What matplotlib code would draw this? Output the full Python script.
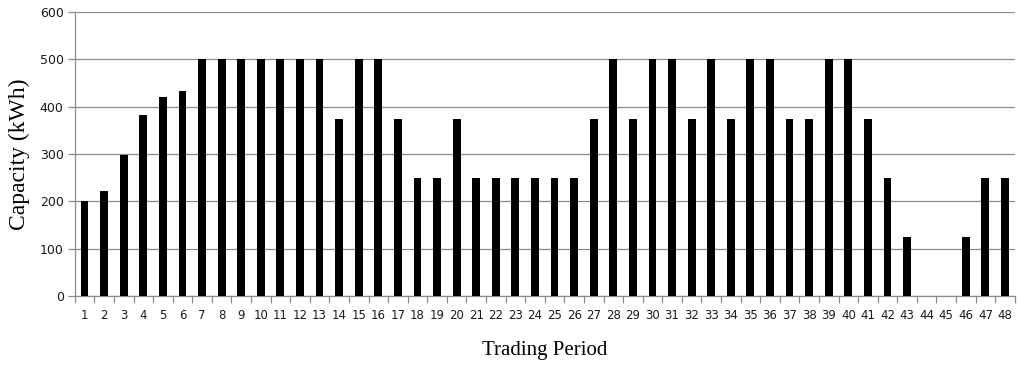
import matplotlib.pyplot as plt
import numpy as np

periods = list(range(1, 49))
capacity = [200, 222, 297, 383, 420, 433, 500, 500, 500, 500,
            500, 500, 500, 375, 500, 500, 375, 250, 250, 375,
            250, 250, 250, 250, 250, 250, 375, 500, 375, 500,
            500, 375, 500, 375, 500, 500, 375, 375, 500, 500,
            375, 250, 125, 0, 0, 125, 250, 250]
yticks = [0, 100, 200, 300, 400, 500, 600]

fig = plt.figure(figsize=(10.24, 3.65), dpi=100)
ax = fig.add_axes([0.073, 0.189, 0.918, 0.778])

x = np.arange(len(periods))
ax.bar(x, capacity, width=0.4, color='black', zorder=3)

ax.set_xlim(-0.5, len(periods) - 0.5)
ax.set_ylim(0, 600)
ax.set_yticks(yticks)
ax.yaxis.grid(True, color='#8c8c8c', lw=0.9, zorder=0)

# category labels centred on bars, tick marks between categories
ax.set_xticks(x)
ax.set_xticklabels([str(p) for p in periods], fontsize=8.5, color='#1a1a1a')
ax.tick_params(axis='x', length=0, pad=9)
ax.set_xticks(np.arange(-0.5, len(periods)), minor=True)
ax.tick_params(axis='x', which='minor', length=5, color='#8c8c8c', width=0.9)
ax.tick_params(axis='y', length=5, color='#8c8c8c', width=0.9, labelsize=9,
               labelcolor='#1a1a1a', pad=3)

for s in ['top', 'right']:
    ax.spines[s].set_visible(False)
for s in ['left', 'bottom']:
    ax.spines[s].set_color('#8c8c8c')
    ax.spines[s].set_linewidth(0.9)

ax.set_xlabel('Trading Period', family='Liberation Serif', fontsize=15, labelpad=14)
ax.set_ylabel('Capacity (kWh)', family='Liberation Serif', fontsize=17, labelpad=7)

fig.savefig('out.png', dpi=100)
